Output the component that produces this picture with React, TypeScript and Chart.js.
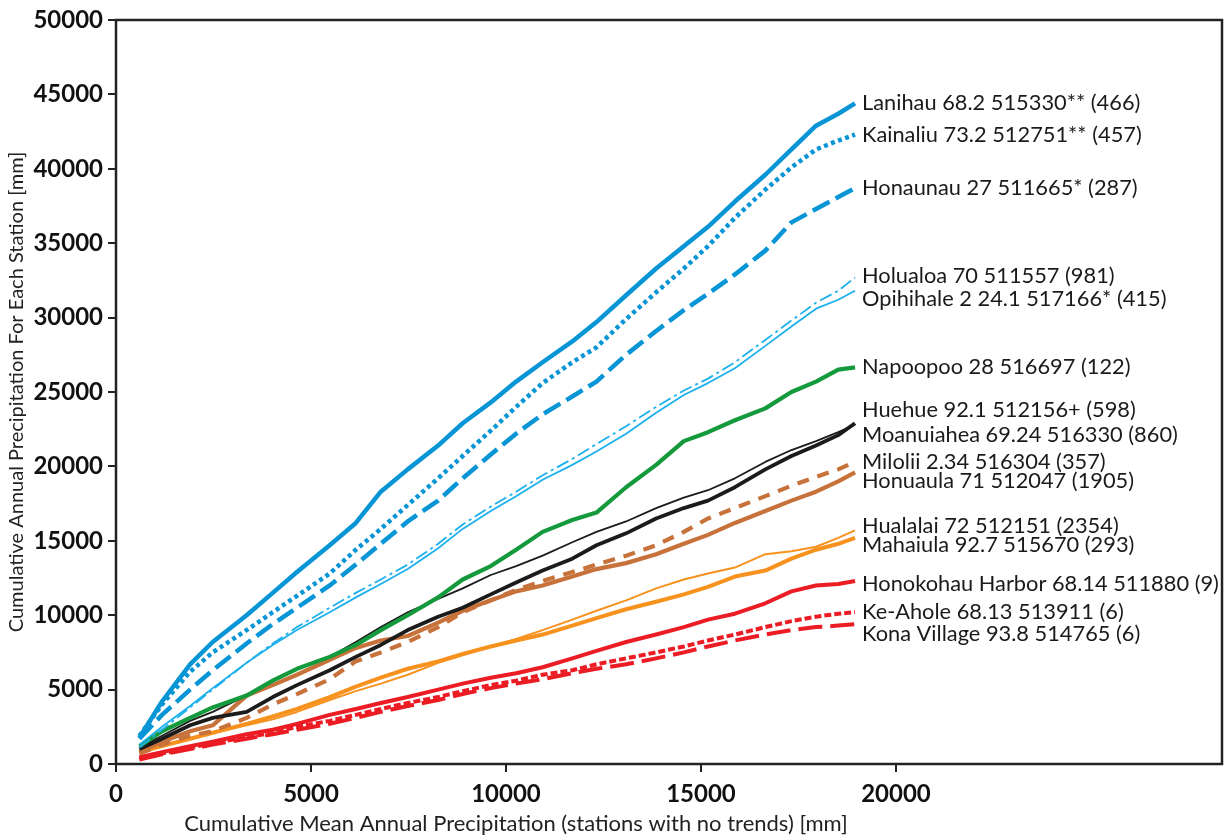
import { useEffect, useRef } from "react";
import { Chart, registerables } from "chart.js";

Chart.register(...registerables);

// Cumulative mean annual precipitation of the reference stations [mm]
const cumMean = [600, 1180, 1900, 2480, 3350, 4020, 4640, 5480, 6150, 6790, 7480, 8260, 8890, 9610, 10260, 10940, 11700, 12320, 13080, 13850, 14560, 15180, 15870, 16650, 17320, 17950, 18520, 18950];

// Cumulative annual precipitation per station [mm]
const lanihau = [1770, 4200, 6700, 8200, 10000, 11500, 12900, 14700, 16200, 18300, 19800, 21400, 22900, 24300, 25700, 27000, 28400, 29700, 31500, 33300, 34800, 36100, 37800, 39600, 41300, 42900, 43700, 44400];
const kainaliu = [1900, 4000, 6200, 7500, 9000, 10200, 11300, 12800, 14400, 15800, 17400, 19200, 20700, 22400, 24000, 25600, 27000, 28000, 29900, 31700, 33300, 34800, 36700, 38600, 40100, 41300, 41900, 42300];
const honaunau = [1700, 3300, 5000, 6300, 8100, 9400, 10500, 12000, 13400, 14800, 16300, 17700, 19200, 20800, 22200, 23500, 24700, 25700, 27500, 29100, 30500, 31600, 32900, 34500, 36400, 37300, 38100, 38700];
const holualoa = [1100, 2300, 3800, 5000, 6800, 8100, 9200, 10500, 11500, 12400, 13400, 14800, 16100, 17300, 18300, 19400, 20500, 21500, 22700, 24000, 25100, 25900, 27000, 28500, 29800, 31000, 31800, 32700];
const opihihale = [1300, 2500, 3900, 5100, 6800, 8000, 9000, 10200, 11200, 12100, 13100, 14500, 15800, 17000, 18000, 19100, 20100, 21000, 22200, 23600, 24800, 25600, 26600, 28100, 29400, 30600, 31200, 31800];
const napoopoo = [1200, 2200, 3100, 3800, 4600, 5600, 6400, 7200, 8000, 9000, 10000, 11200, 12400, 13300, 14400, 15600, 16400, 16900, 18600, 20100, 21700, 22300, 23100, 23900, 25000, 25700, 26500, 26650];
const huehue = [1100, 1900, 2900, 3500, 4600, 5600, 6400, 7200, 8200, 9200, 10200, 11100, 11800, 12700, 13300, 14000, 14900, 15600, 16300, 17200, 17900, 18400, 19200, 20300, 21100, 21700, 22300, 22800];
const moanuiahea = [1000, 1700, 2600, 3100, 3500, 4500, 5300, 6300, 7200, 8000, 9000, 9900, 10500, 11400, 12200, 13000, 13800, 14700, 15500, 16500, 17200, 17700, 18600, 19800, 20700, 21400, 22100, 22900];
const milolii = [700, 1300, 1900, 2200, 3100, 4000, 4700, 5700, 6900, 7500, 8200, 9200, 10200, 11000, 11700, 12300, 12900, 13400, 14000, 14700, 15600, 16500, 17200, 18000, 18700, 19300, 19800, 20300];
const honuaula = [800, 1500, 2200, 2600, 4600, 5300, 6000, 7000, 7800, 8300, 8600, 9500, 10300, 11000, 11600, 12000, 12600, 13100, 13500, 14100, 14800, 15400, 16200, 17000, 17700, 18300, 19000, 19600];
const hualalai = [900, 1300, 1700, 2100, 2600, 3000, 3500, 4300, 4900, 5400, 6000, 6800, 7300, 7900, 8400, 9000, 9700, 10300, 11000, 11800, 12400, 12800, 13200, 14100, 14300, 14600, 15200, 15700];
const mahaiula = [800, 1200, 1700, 2100, 2700, 3200, 3700, 4500, 5200, 5800, 6400, 6900, 7400, 7900, 8300, 8700, 9300, 9800, 10400, 10900, 11400, 11900, 12600, 13000, 13800, 14400, 14800, 15200];
const honokohau = [450, 800, 1200, 1500, 2000, 2300, 2700, 3300, 3700, 4100, 4500, 5000, 5400, 5800, 6100, 6500, 7100, 7600, 8200, 8700, 9200, 9700, 10100, 10800, 11600, 12000, 12100, 12300];
const keAhole = [350, 700, 1100, 1400, 1800, 2100, 2500, 2900, 3300, 3700, 4100, 4500, 4900, 5300, 5600, 6000, 6300, 6700, 7100, 7500, 7900, 8300, 8700, 9200, 9600, 9900, 10100, 10200];
const konaVillage = [300, 650, 1000, 1300, 1700, 2000, 2300, 2700, 3100, 3500, 3900, 4300, 4700, 5100, 5400, 5700, 6100, 6400, 6700, 7100, 7500, 7900, 8300, 8700, 9000, 9200, 9300, 9400];

const stationNames = [
  "Lanihau 68.2 515330** (466)",
  "Kainaliu 73.2 512751** (457)",
  "Honaunau 27 511665* (287)",
  "Holualoa 70 511557 (981)",
  "Opihihale 2 24.1 517166* (415)",
  "Napoopoo 28 516697 (122)",
  "Huehue 92.1 512156+ (598)",
  "Moanuiahea 69.24 516330 (860)",
  "Milolii 2.34 516304 (357)",
  "Honuaula 71 512047 (1905)",
  "Hualalai 72 512151 (2354)",
  "Mahaiula 92.7 515670 (293)",
  "Honokohau Harbor 68.14 511880 (9)",
  "Ke-Ahole 68.13 513911 (6)",
  "Kona Village 93.8 514765 (6)",
];

const xTicks = [0, 5000, 10000, 15000, 20000];
const yMax = 50000;
const yStep = 5000;

// Line appearance for each station (colour, width, dash) and label nudge in px
const BLUE = "#0895d6";
const LIGHT_BLUE = "#1cb0ec";
const GREEN = "#149a3c";
const BLACK = "#1b1b1b";
const BROWN = "#c7723a";
const ORANGE = "#f7921f";
const RED = "#ec1c24";

const styles = [
  { color: BLUE, width: 4.5, dash: [], nudge: 0 },
  { color: BLUE, width: 4.5, dash: [4, 3.5], nudge: 0 },
  { color: BLUE, width: 4.5, dash: [19, 7], nudge: 0 },
  { color: LIGHT_BLUE, width: 1.8, dash: [13, 4, 3, 4], nudge: -1 },
  { color: LIGHT_BLUE, width: 1.8, dash: [], nudge: 8 },
  { color: GREEN, width: 4.2, dash: [], nudge: 0 },
  { color: BLACK, width: 1.8, dash: [], nudge: -15 },
  { color: BLACK, width: 3.8, dash: [], nudge: 12 },
  { color: BROWN, width: 4.2, dash: [12, 9], nudge: 0 },
  { color: BROWN, width: 4.2, dash: [], nudge: 9 },
  { color: ORANGE, width: 2, dash: [], nudge: -4 },
  { color: ORANGE, width: 4, dash: [], nudge: 7 },
  { color: RED, width: 4, dash: [], nudge: 3 },
  { color: RED, width: 4, dash: [7, 3], nudge: 0 },
  { color: RED, width: 4, dash: [24, 8], nudge: 10 },
];

const seriesValues = [
  lanihau, kainaliu, honaunau, holualoa, opihihale, napoopoo, huehue, moanuiahea,
  milolii, honuaula, hualalai, mahaiula, honokohau, keAhole, konaVillage,
];

const FONT = "Lato, 'Open Sans', sans-serif";

// Frame around the plot area
const framePlugin = {
  id: "frame",
  afterDraw(chart: any) {
    const { ctx, chartArea: a } = chart;
    ctx.save();
    ctx.strokeStyle = "#222";
    ctx.lineWidth = 2.5;
    ctx.strokeRect(a.left, a.top, a.right - a.left, a.bottom - a.top);
    ctx.restore();
  },
};

// Station names written at the end of each line
const endLabelPlugin = {
  id: "endLabels",
  afterDatasetsDraw(chart: any) {
    const { ctx } = chart;
    ctx.save();
    ctx.font = `21.8px ${FONT}`;
    ctx.fillStyle = "#1a1a1a";
    ctx.textAlign = "left";
    ctx.textBaseline = "middle";
    chart.data.datasets.forEach((ds: any, i: number) => {
      const meta = chart.getDatasetMeta(i);
      const last = meta.data[meta.data.length - 1];
      if (!last) return;
      ctx.fillText(ds.label, last.x + 7, last.y + styles[i].nudge);
    });
    ctx.restore();
  },
};

// X-axis title
const xTitlePlugin = {
  id: "xTitle",
  afterDraw(chart: any) {
    const { ctx, chartArea: a } = chart;
    ctx.save();
    ctx.font = `22px ${FONT}`;
    ctx.fillStyle = "#222";
    ctx.textAlign = "center";
    ctx.textBaseline = "middle";
    ctx.fillText(
      "Cumulative Mean Annual Precipitation (stations with no trends) [mm]",
      a.left + 400,
      824
    );
    ctx.restore();
  },
};

export default function App() {
  const canvasRef = useRef<HTMLCanvasElement | null>(null);

  useEffect(() => {
    const canvas = canvasRef.current;
    if (!canvas) return;
    const datasets = seriesValues.map((vals, i) => ({
      label: stationNames[i],
      data: cumMean.map((x, j) => ({ x, y: vals[j] })),
      borderColor: styles[i].color,
      borderWidth: styles[i].width,
      borderDash: styles[i].dash,
      borderCapStyle: "butt" as const,
      borderJoinStyle: "round" as const,
      pointRadius: 0,
      tension: 0,
      fill: false,
    }));

    const chart = new Chart(canvas, {
      type: "line",
      data: { datasets },
      options: {
        animation: false,
        responsive: true,
        maintainAspectRatio: false,
        layout: { padding: { top: 20, right: 3, left: 0, bottom: 0 } },
        plugins: {
          legend: { display: false },
          tooltip: { enabled: false },
        },
        scales: {
          x: {
            type: "linear",
            min: 0,
            max: 28360,
            afterBuildTicks: (scale: any) => {
              scale.ticks = xTicks.map((v) => ({ value: v }));
            },
            afterFit: (scale: any) => {
              scale.height = 76;
            },
            border: { display: false },
            grid: {
              drawOnChartArea: false,
              drawTicks: true,
              tickLength: 8,
              color: "#222",
              lineWidth: 2,
            },
            ticks: {
              autoSkip: false,
              maxRotation: 0,
              padding: 8,
              color: "#111",
              font: { family: FONT, size: 24, weight: "bold" },
              callback: (v: any) => String(v),
            },
          },
          y: {
            type: "linear",
            min: 0,
            max: yMax,
            afterFit: (scale: any) => {
              scale.width = 116;
            },
            border: { display: false },
            grid: {
              drawOnChartArea: false,
              drawTicks: true,
              tickLength: 8,
              color: "#222",
              lineWidth: 2,
            },
            ticks: {
              stepSize: yStep,
              padding: 5,
              color: "#111",
              font: { family: FONT, size: 24, weight: "bold" },
              callback: (v: any) => String(v),
            },
            title: {
              display: true,
              text: "Cumulative Annual Precipitation For Each Station [mm]",
              color: "#222",
              font: { family: FONT, size: 20 },
              padding: { top: 5, bottom: 0 },
            },
          },
        },
      },
      plugins: [framePlugin, endLabelPlugin, xTitlePlugin],
    } as any);

    return () => chart.destroy();
  }, []);

  return (
    <div style={{ position: "fixed", left: 0, top: 0, width: 1225, height: 840, background: "#fff" }}>
      <canvas ref={canvasRef} />
    </div>
  );
}
